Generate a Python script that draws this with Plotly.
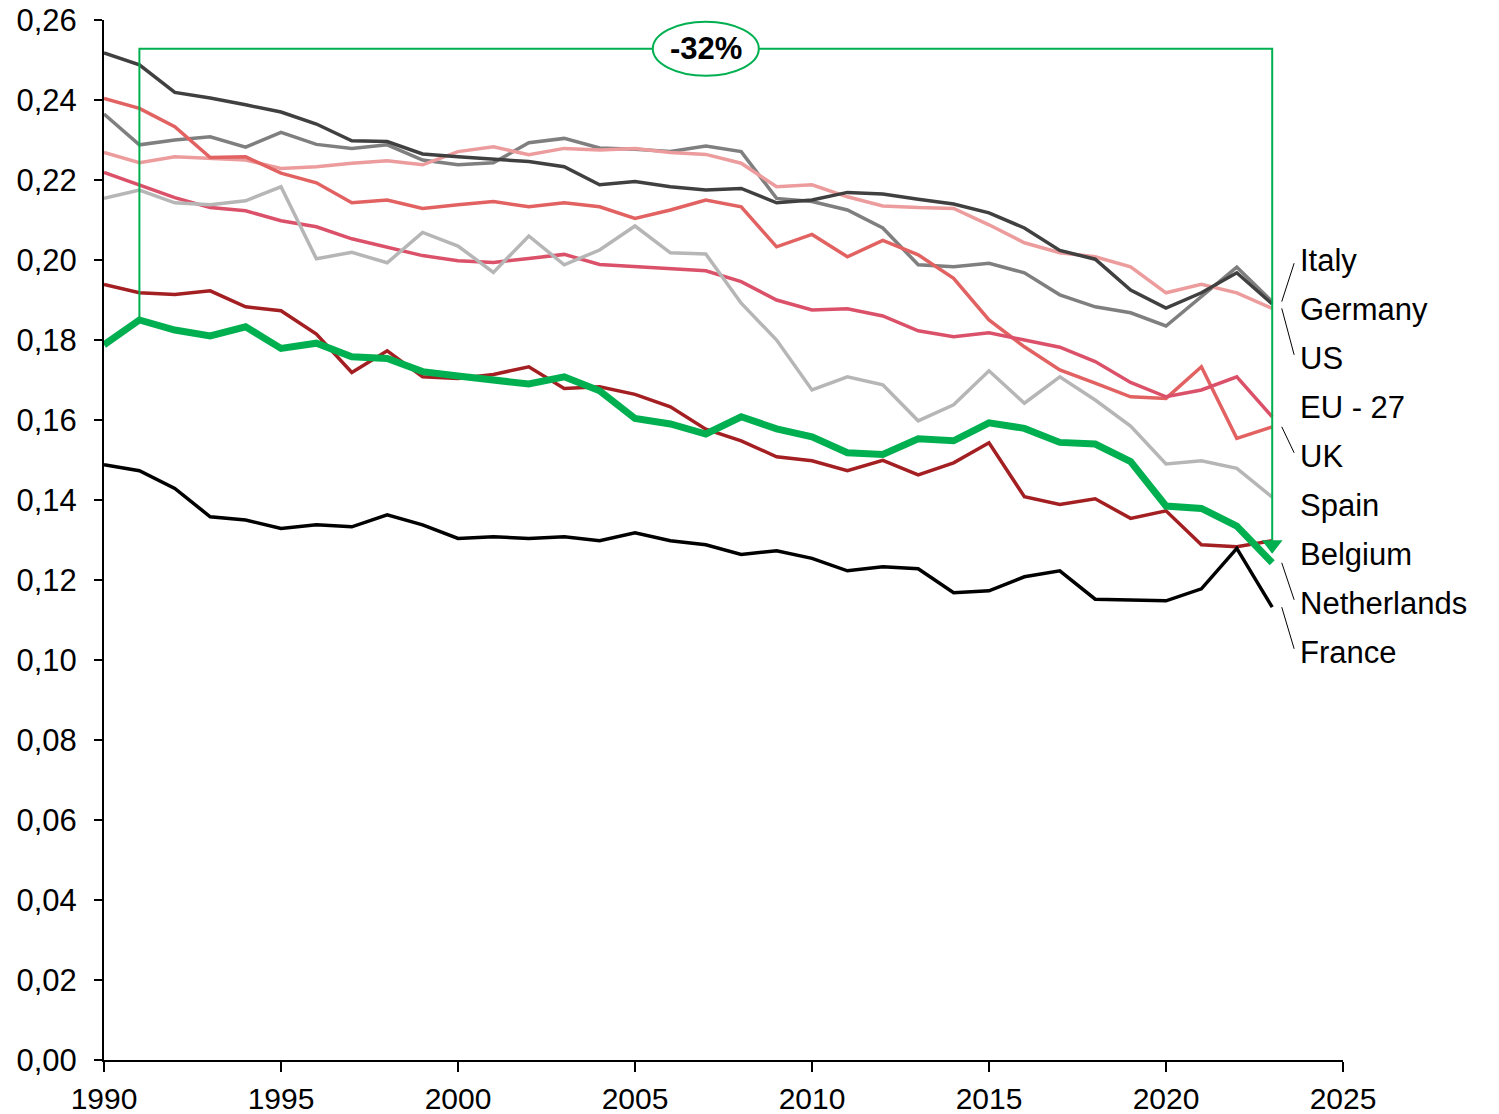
import plotly.graph_objects as go

years = list(range(1990, 2024))

germany = [.2518, .2488, .2419, .2405, .2388, .2370, .2340, .2298, .2296, .2265,
           .2258, .2253, .2246, .2233, .2188, .2196, .2183, .2175, .2179, .2143,
           .2150, .2169, .2165, .2152, .2140, .2118, .2080, .2024, .2002, .1925,
           .1880, .1918, .1968, .1890]
italy = [.2365, .2288, .2300, .2308, .2282, .2319, .2289, .2279, .2288, .2250,
         .2238, .2243, .2293, .2304, .2280, .2277, .2271, .2285, .2271, .2154,
         .2146, .2125, .2080, .1988, .1983, .1992, .1968, .1913, .1883, .1868,
         .1835, .1908, .1982, .1896]
us = [.2269, .2243, .2258, .2254, .2250, .2229, .2233, .2242, .2248, .2238,
      .2271, .2283, .2263, .2279, .2275, .2279, .2269, .2264, .2242, .2183,
      .2188, .2158, .2135, .2131, .2129, .2088, .2043, .2018, .2008, .1983,
      .1918, .1939, .1918, .1879]
uk = [.2404, .2379, .2333, .2256, .2258, .2217, .2193, .2143, .2150, .2129,
      .2138, .2146, .2133, .2143, .2133, .2104, .2125, .2150, .2133, .2033,
      .2064, .2008, .2049, .2013, .1954, .1850, .1783, .1725, .1692, .1658,
      .1654, .1733, .1554, .1583]
eu27 = [.2219, .2188, .2156, .2131, .2123, .2098, .2083, .2053, .2033, .2011,
        .1998, .1994, .2004, .2014, .1989, .1983, .1978, .1973, .1946, .1900,
        .1875, .1878, .1860, .1823, .1808, .1818, .1800, .1782, .1746, .1694,
        .1658, .1675, .1708, .1608]
spain = [.2154, .2175, .2143, .2138, .2148, .2183, .2003, .2019, .1993, .2069,
         .2035, .1969, .2060, .1988, .2025, .2085, .2018, .2015, .1892, .1800,
         .1675, .1708, .1688, .1598, .1638, .1723, .1642, .1708, .1650, .1585,
         .1490, .1498, .1479, .1407]
belgium = [.1939, .1918, .1914, .1923, .1883, .1873, .1815, .1719, .1773, .1708,
           .1704, .1714, .1733, .1679, .1683, .1664, .1633, .1577, .1548, .1508,
           .1498, .1473, .1499, .1463, .1493, .1543, .1408, .1389, .1403, .1354,
           .1373, .1288, .1283, .1298]
netherlands = [.1788, .1850, .1825, .1810, .1833, .1779, .1792, .1758, .1754, .1721,
               .1710, .1700, .1690, .1708, .1673, .1604, .1590, .1565, .1608, .1578,
               .1558, .1518, .1514, .1553, .1548, .1593, .1579, .1544, .1540, .1496,
               .1385, .1379, .1335, .1243]
france = [.1488, .1473, .1429, .1358, .1350, .1329, .1338, .1333, .1363, .1338,
          .1304, .1308, .1304, .1308, .1298, .1318, .1298, .1288, .1264, .1273,
          .1254, .1223, .1233, .1228, .1168, .1173, .1208, .1223, .1152, .1150,
          .1148, .1178, .1279, .1132]

x_ticks = [1990, 1995, 2000, 2005, 2010, 2015, 2020, 2025]
change_label = "-32%"

# (name, values, colour, width) in label order
series = [
    ("Italy", italy, "#7f7f7f", 3.5),
    ("Germany", germany, "#404040", 3.5),
    ("US", us, "#ec9c9c", 3.5),
    ("EU - 27", eu27, "#db5169", 3.5),
    ("UK", uk, "#e26262", 3.5),
    ("Spain", spain, "#b6b6b6", 3.5),
    ("Belgium", belgium, "#a31f22", 3.5),
    ("Netherlands", netherlands, "#00b050", 7),
    ("France", france, "#000000", 3.5),
]
draw_order = ["Italy", "US", "Germany", "UK", "EU - 27", "Spain", "Belgium", "France", "Netherlands"]

GREEN = "#00b050"
FONT = "Liberation Sans, Arial, sans-serif"
LABEL_TOP = 0.2000
LABEL_STEP = 0.01225
BRACKET_TOP = 0.2528

fig = go.Figure()
lookup = {s[0]: s for s in series}
for name in draw_order:
    n, vals, col, w = lookup[name]
    fig.add_trace(go.Scatter(x=years, y=vals, mode="lines", name=n,
                             line=dict(color=col, width=w), showlegend=False))

# bracket showing change of the highlighted series (start year 1991 -> last year)
hl = netherlands
x_start, x_end = years[1], years[-1]
y_start, y_end = hl[1], hl[-1]
arrow_y = y_end + 0.0045
fig.add_trace(go.Scatter(
    x=[x_start, x_start, x_end, x_end],
    y=[y_start + 0.0006, BRACKET_TOP, BRACKET_TOP, arrow_y],
    mode="lines", line=dict(color=GREEN, width=2), showlegend=False, hoverinfo="skip"))
fig.add_trace(go.Scatter(
    x=[x_end], y=[arrow_y], mode="markers",
    marker=dict(symbol="triangle-down", size=18, color=GREEN, line=dict(width=0)),
    showlegend=False, hoverinfo="skip"))

x_mid = (x_start + x_end) / 2
fig.add_shape(type="circle", xref="x", yref="y",
              xsizemode="pixel", ysizemode="pixel",
              xanchor=x_mid, yanchor=BRACKET_TOP,
              x0=-53, x1=53, y0=-27, y1=27,
              fillcolor="white", line=dict(color=GREEN, width=2), layer="above")
fig.add_annotation(x=x_mid, y=BRACKET_TOP, xref="x", yref="y", text="<b>" + change_label + "</b>",
                   showarrow=False, font=dict(family=FONT, size=31, color="black"),
                   xanchor="center", yanchor="middle", yshift=0)

# end labels with leader lines
for i, (n, vals, col, w) in enumerate(series):
    ly = LABEL_TOP - i * LABEL_STEP
    fig.add_annotation(x=years[-1], y=ly, xref="x", yref="y", text=n,
                       showarrow=False, xanchor="left", yanchor="middle",
                       xshift=26, font=dict(family=FONT, size=31, color="black"))
    if abs(ly - vals[-1]) > 0.005:
        sign = 1 if ly > vals[-1] else -1
        fig.add_shape(type="line", xref="x", yref="y",
                      x0=years[-1] + 0.27, y0=vals[-1],
                      x1=years[-1] + 0.62, y1=ly - sign * 0.0008,
                      line=dict(color="black", width=1))

fig.update_layout(
    width=1499, height=1114,
    margin=dict(l=104, r=156, t=20, b=54),
    paper_bgcolor="white", plot_bgcolor="white",
    separators=", ",
    font=dict(family=FONT, size=31, color="black"),
    showlegend=False,
)
fig.update_xaxes(range=[1990, 2025], tickvals=x_ticks, showgrid=False, zeroline=False,
                 showline=True, linecolor="black", linewidth=2, automargin=False,
                 ticks="outside", ticklen=10, tickwidth=2, tickcolor="black",
                 tickfont=dict(family=FONT, size=30, color="black"), ticklabelstandoff=1)
fig.update_yaxes(range=[0, 0.26], dtick=0.02, tickformat=".2f", showgrid=False, zeroline=False,
                 showline=True, linecolor="black", linewidth=2, automargin=False,
                 ticks="outside", ticklen=8, tickwidth=2, tickcolor="black",
                 tickfont=dict(family=FONT, size=31, color="black"), ticklabelstandoff=11)

fig.write_html("out.html", post_script="document.body.style.margin='0';",
               config={"displayModeBar": False})
